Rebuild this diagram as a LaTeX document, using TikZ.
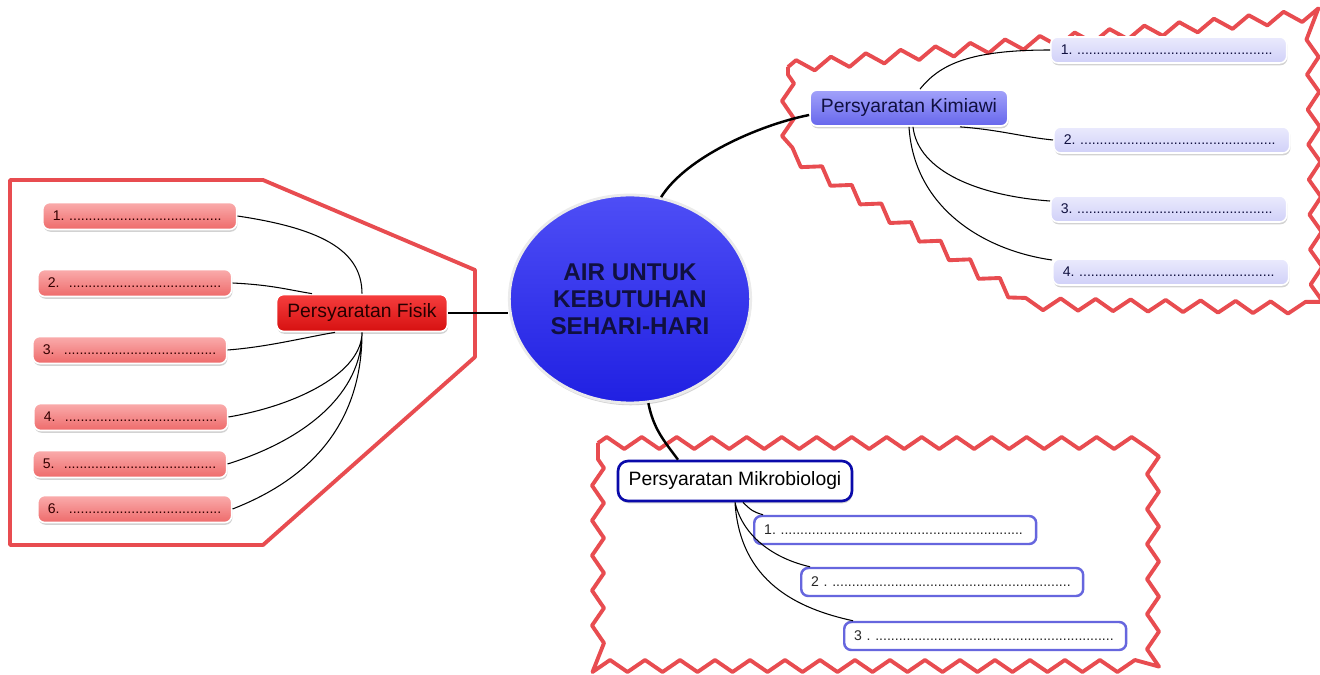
\documentclass[tikz,border=0pt]{standalone}
\usepackage{fontspec}
\setmainfont{Liberation Sans}
\usepackage{tikz}
\usetikzlibrary{shapes.geometric, shadows, decorations.pathmorphing}
\frenchspacing

\definecolor{frameRed}{RGB}{232,76,80}
\definecolor{hubTop}{RGB}{78,78,246}
\definecolor{hubBot}{RGB}{32,32,226}
\definecolor{hubText}{RGB}{16,16,64}
\definecolor{fisikTop}{RGB}{246,62,62}
\definecolor{fisikBot}{RGB}{214,16,16}
\definecolor{pinkTop}{RGB}{250,172,172}
\definecolor{pinkBot}{RGB}{238,106,106}
\definecolor{kimiaTop}{RGB}{162,162,250}
\definecolor{kimiaBot}{RGB}{102,102,236}
\definecolor{lilacTop}{RGB}{234,234,253}
\definecolor{lilacBot}{RGB}{208,208,248}
\definecolor{mikroLine}{RGB}{10,10,170}
\definecolor{mikroItem}{RGB}{102,102,222}

\newcommand{\dotrow}[1]{\foreach \d in {1,...,#1}{.}}

\tikzset{
soft shadow/.style={drop shadow={shadow xshift=0.4pt, shadow yshift=-1.3pt, opacity=0.35}}, % grey shade under the boxes
hub/.style={ellipse, minimum width=4.68cm, minimum height=4.16cm, top color=hubTop, bottom color=hubBot, draw=black!8, line width=1.6pt, soft shadow, text=hubText, align=center, font=\fontsize{13.8}{15.4}\selectfont\bfseries}, % the centre
branch/.style={rectangle, rounded corners=0.14cm, draw=white, line width=1pt, soft shadow, font=\fontsize{11}{13}\selectfont}, % the three main topics
item/.style={rectangle, rounded corners=0.14cm, anchor=west, inner xsep=0.2cm, align=left, font=\fontsize{8}{10}\selectfont}, % the blank lines
fisikitem/.style={item, text width=3.48cm, minimum height=0.54cm, top color=pinkTop, bottom color=pinkBot, draw=white, line width=0.9pt, soft shadow, text=black!80!red},
kimiaitem/.style={item, text width=4.32cm, minimum height=0.52cm, top color=lilacTop, bottom color=lilacBot, draw=white, line width=0.9pt, soft shadow, text=hubText},
mikroitem/.style={item, text width=5.24cm, minimum height=0.56cm, fill=white, draw=mikroItem, line width=1.4pt, text=black!85},
stem/.style={line width=1.4pt}, % from the centre to a topic
twig/.style={line width=0.6pt}, % from a topic to its lines
frame/.style={draw=frameRed, line width=2.2pt, line join=round},
zigframe/.style={frame, decorate, decoration={zigzag, segment length=0.7cm, amplitude=0.12cm}},
}

\begin{document}
\begin{tikzpicture}[x=0.02cm, y=-0.02cm]
\useasboundingbox (0,0) rectangle (1320,675);
\fill[white] (0,0) rectangle (1320,675);

% frames round the three groups
\draw[frame] (10,180) -- (263,180) -- (475,270) -- (475,357) -- (263,545) -- (10,545) -- cycle;
\draw[zigframe] (788,67) -- (1312,15) -- (1317,308) -- (1030,304) -- (788,152) -- cycle;
\draw[zigframe] (598,443) -- (1153,443) -- (1153,666) -- (598,666) -- cycle;

% centre and topics
\node[hub] (air) at (630,299) {AIR UNTUK\\KEBUTUHAN\\SEHARI-HARI};
\node[branch, minimum width=3.42cm, minimum height=0.74cm, top color=fisikTop, bottom color=fisikBot, text=black!85!red] (fisik) at (362,313) {Persyaratan Fisik};
\node[branch, minimum width=3.96cm, minimum height=0.72cm, top color=kimiaTop, bottom color=kimiaBot, text=hubText] (kimia) at (909,108) {Persyaratan Kimiawi};
\node[branch, minimum width=4.68cm, minimum height=0.8cm, rounded corners=0.2cm, fill=white, draw=mikroLine, line width=1.5pt] (mikro) at (735,481) {Persyaratan Mikrobiologi};

% Persyaratan Fisik
\node[fisikitem] (f1) at (42,216) {1. \dotrow{39}};
\node[fisikitem] (f2) at (37,283) {2.~ \dotrow{39}};
\node[fisikitem] (f3) at (32,350) {3.~ \dotrow{39}};
\node[fisikitem] (f4) at (33,417) {4.~ \dotrow{39}};
\node[fisikitem] (f5) at (32,464) {5.~ \dotrow{39}};
\node[fisikitem] (f6) at (37,509) {6.~ \dotrow{39}};

% Persyaratan Kimiawi
\node[kimiaitem] (k1) at (1050,50) {1. \dotrow{50}};
\node[kimiaitem] (k2) at (1053,140) {2. \dotrow{50}};
\node[kimiaitem] (k3) at (1050,209) {3. \dotrow{50}};
\node[kimiaitem] (k4) at (1052,272) {4. \dotrow{50}};

% Persyaratan Mikrobiologi
\node[mikroitem] (m1) at (753,530) {1. \dotrow{62}};
\node[mikroitem] (m2) at (800,582) {2 . \dotrow{61}};
\node[mikroitem] (m3) at (843,636) {3 . \dotrow{61}};

\draw[stem] (fisik.east) -- (fisik.east -| air.west);
\draw[stem] (air.73) .. controls +(25,-40) and +(-50,10) .. ([yshift=-0.14cm]kimia.west);
\draw[stem] (air.-80) .. controls +(5,25) and +(-15,-20) .. ([xshift=-1.14cm]mikro.north);

\draw[twig] (f1.east) .. controls +(80,12) and +(0,-45) .. (fisik.north)
(f2.east) .. controls +(40,2) and +(-25,-4) .. ([xshift=-1cm]fisik.north)
(f3.east) .. controls +(40,-3) and +(-30,5) .. ([xshift=-0.54cm]fisik.south)
(f4.east) .. controls +(70,-12) and +(0,40) .. (fisik.south)
(f5.east) .. controls +(80,-25) and +(0,60) .. (fisik.south)
(f6.east) .. controls +(90,-35) and +(0,80) .. (fisik.south);

\draw[twig] ([xshift=0.22cm]kimia.north) .. controls +(20,-25) and +(-80,0) .. (k1.west)
([xshift=1.02cm]kimia.south) .. controls +(40,3) and +(-30,-3) .. (k2.west)
([xshift=0.08cm]kimia.south) .. controls +(5,45) and +(-70,-5) .. ([yshift=0.16cm]k3.west)
(kimia.south) .. controls +(5,80) and +(-70,-10) .. ([yshift=0.24cm]k4.west);

\draw[twig] ([xshift=0.16cm]mikro.south) .. controls +(8,8) and +(-10,-3) .. ([xshift=0.2cm]m1.north west)
(mikro.south) .. controls +(8,35) and +(-35,-8) .. ([xshift=0.2cm]m2.north west)
(mikro.south) .. controls +(5,80) and +(-55,-12) .. ([xshift=0.2cm]m3.north west);
\end{tikzpicture}
\end{document}
